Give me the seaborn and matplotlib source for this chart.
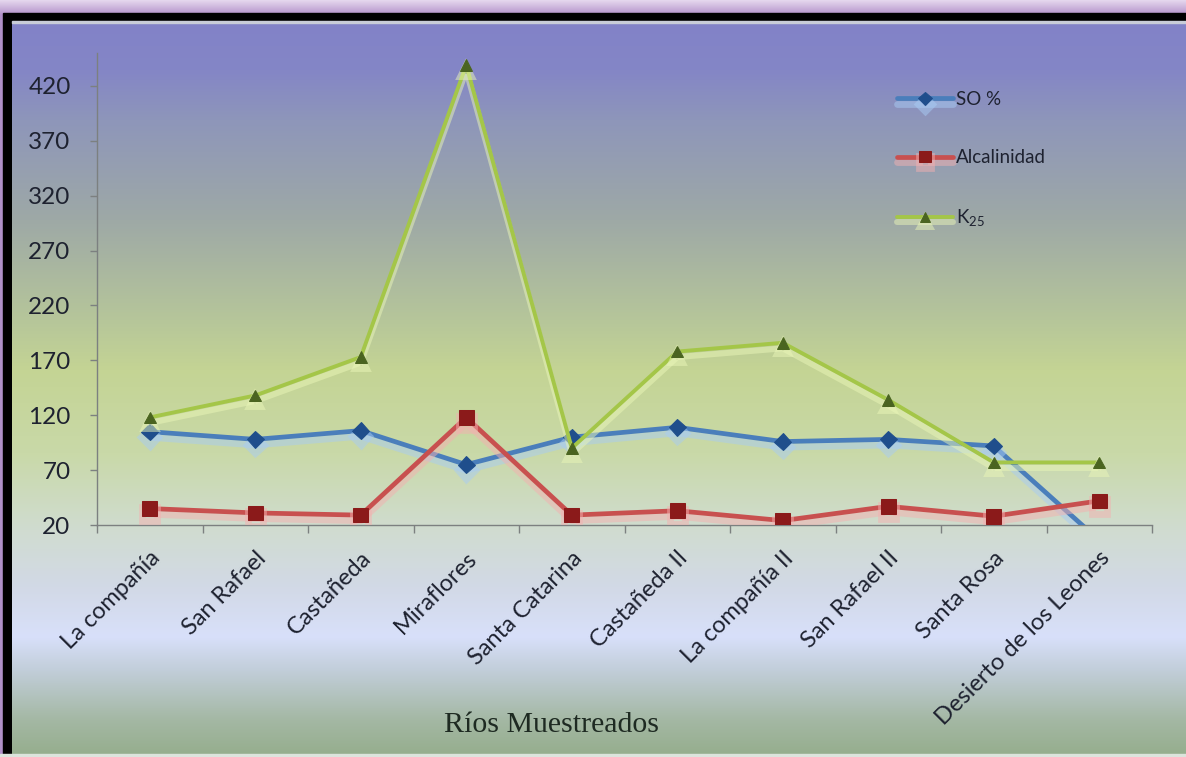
import numpy as np
import pandas as pd
import matplotlib
matplotlib.use("Agg")
import matplotlib.pyplot as plt
import matplotlib.patheffects as pe
from matplotlib.colors import to_rgb
from matplotlib.patches import Rectangle
import seaborn as sns

# ---- data -------------------------------------------------------------
rios = ["La compañía", "San Rafael", "Castañeda", "Miraflores", "Santa Catarina",
        "Castañeda II", "La compañía II", "San Rafael II", "Santa Rosa",
        "Desierto de los Leones"]
so_pct = [105, 98, 106, 75, 100, 109, 96, 98, 92, 6]
alcalinidad = [35, 31, 29, 118, 29, 33, 24, 37, 28, 42]
k25 = [118, 138, 173, 439, 90, 178, 186, 134, 77, 77]
y_ticks = [20, 70, 120, 170, 220, 270, 320, 370, 420]
serie_labels = ["SO %", "Alcalinidad", r"K$_{\mathregular{25}}$"]

W, H = 1186, 757
sns.set_theme(style="white")
plt.rcParams["font.family"] = ["Lato", "DejaVu Sans"]

fig = plt.figure(figsize=(W / 100, H / 100), dpi=100)

# ---- framed gradient backdrop ----------------------------------------
bg = fig.add_axes([0, 0, 1, 1], zorder=-10)
bg.set_xlim(0, W)
bg.set_ylim(H, 0)
bg.axis("off")

# soft lavender glow around the frame
glow = np.linspace(0, 1, 50)[:, None, None]
top_c = np.array(to_rgb("#e6d8ee"))
bot_c = np.array(to_rgb("#b696cc"))
bg.imshow(np.repeat(top_c + (bot_c - top_c) * glow, 2, axis=1),
          extent=(0, W, 14, 0), aspect="auto", interpolation="bilinear")
bg.add_patch(Rectangle((0, 14), W, H, color="#b090c8", zorder=0))
# black frame
bg.add_patch(Rectangle((3, 13), W, H, color="black", zorder=1))

stops = [(22, "#8282c8"), (70, "#8486c6"), (120, "#8e96ba"), (220, "#9ea9a6"),
         (320, "#b6c69a"), (370, "#c4d494"), (453, "#c9d9a8"), (530, "#d0dcd0"),
         (587, "#d2d9e6"), (637, "#d8e0fa"), (670, "#c2ceda"), (720, "#a4b8a4"),
         (754, "#96ae8e")]
ys = np.arange(22, 755)
sy = [s[0] for s in stops]
cols = np.array([to_rgb(s[1]) for s in stops])
grad = np.stack([np.interp(ys, sy, cols[:, k]) for k in range(3)], axis=-1)
bg.imshow(grad[:, None, :].repeat(2, axis=1), extent=(12, W, 754, 22),
          aspect="auto", interpolation="bilinear", zorder=2)
bg.add_patch(Rectangle((12, 21), W, 1.5, color="#c8ccd8", zorder=3))
bg.add_patch(Rectangle((0, 754), W, 4, color="#dce4dc", zorder=3))

# ---- main chart -------------------------------------------------------
ax = fig.add_axes([97 / W, 1 - 525 / H, (1152 - 97) / W, (525 - 53) / H])
ax.patch.set_alpha(0)

pos = np.arange(len(rios))
series = [
    (so_pct, "#4a7ebb", "#1f4e8c", "D", 8.5, 3.4, "#a8ccf4"),
    (alcalinidad, "#c8504f", "#8b1a1a", "s", 10.5, 3.4, "#f4b0b0"),
    (k25, "#a4c648", "#4a6420", "^", 8.5, 2.8, "#eaf6b8"),
]
for (vals, lc, mc, mk, ms, lw, shade), lab in zip(series, serie_labels):
    df = pd.DataFrame({"pos": pos, "valor": vals})
    sns.lineplot(data=df, x="pos", y="valor", ax=ax, color=lc, lw=lw,
                 marker=mk, markersize=ms, markerfacecolor=mc,
                 markeredgecolor=mc, label=lab, sort=False, zorder=3,
                 path_effects=[pe.SimpleLineShadow(offset=(0, -4),
                                                   shadow_color=shade,
                                                   alpha=0.5, linewidth=lw + 1.5),
                               pe.Normal()])

ax.set_xlim(-0.5, len(rios) - 0.5)
ax.set_ylim(20, 450)
ax.set_yticks(y_ticks)
ax.set_yticklabels([str(v) for v in y_ticks], fontsize=17.5, color="#1e2230")
ax.set_xticks(pos)
ax.set_xticklabels(rios, rotation=45, ha="right", rotation_mode="anchor",
                   fontsize=17, color="#1e2230")
ax.set_xticks(np.arange(-0.5, len(rios)), minor=True)
ax.tick_params(axis="x", which="major", bottom=True, length=0, pad=16)
ax.tick_params(axis="x", which="minor", bottom=True, length=6, width=1,
               color="#7c8080", direction="out")
ax.tick_params(axis="y", which="major", left=True, length=5, width=1,
               color="#7c8080", direction="out", pad=14)
for side in ("top", "right"):
    ax.spines[side].set_visible(False)
for side in ("left", "bottom"):
    ax.spines[side].set_color("#7c8080")
    ax.spines[side].set_linewidth(1)
ax.set_xlabel("")
ax.set_ylabel("")

handles, labels = ax.get_legend_handles_labels()
ax.legend(handles, labels, loc="upper left",
          bbox_to_anchor=(880 / W, 1 - 74 / H), bbox_transform=fig.transFigure,
          frameon=False, fontsize=13.5, labelspacing=2.2, handlelength=3.0,
          handletextpad=0.15, markerscale=0.8, labelcolor="#1e2230")

fig.text(551 / W, 1 - 725 / H, "Ríos Muestreados", ha="center", va="center",
         fontsize=21.5, family=["Liberation Serif", "DejaVu Serif"],
         color="#1e2a22")

fig.savefig("out.png", dpi=100)
